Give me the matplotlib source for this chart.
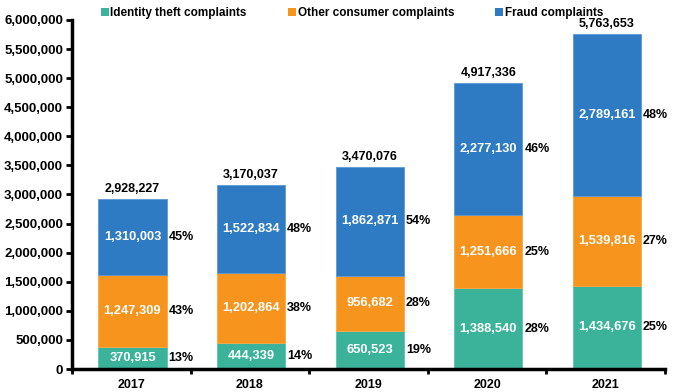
import matplotlib
matplotlib.use("Agg")
import matplotlib.pyplot as plt
import numpy as np
from matplotlib.ticker import FuncFormatter

years = ["2017", "2018", "2019", "2020", "2021"]
identity = [370915, 444339, 650523, 1388540, 1434676]
other = [1247309, 1202864, 956682, 1251666, 1539816]
fraud = [1310003, 1522834, 1862871, 2277130, 2789161]
totals = [2928227, 3170037, 3470076, 4917336, 5763653]
pct_identity = ["13%", "14%", "19%", "28%", "25%"]
pct_other = ["43%", "38%", "28%", "25%", "27%"]
pct_fraud = ["45%", "48%", "54%", "46%", "48%"]

plt.rcParams['font.family'] = ['Liberation Sans', 'DejaVu Sans']
plt.rcParams['font.weight'] = 'bold'

fig = plt.figure(figsize=(6.75, 3.92), dpi=100)
ax = fig.add_axes([72 / 675, 1 - 369 / 392, (665 - 72) / 675, (369 - 20) / 392])

x = np.arange(len(years)) + 0.01
w = 0.575
c_id, c_ot, c_fr = "#3AB39A", "#F7941D", "#2E7BC4"
b1 = ax.bar(x, identity, w, color=c_id, edgecolor="#5CC4AE", linewidth=0.6, label="Identity theft complaints")
b2 = ax.bar(x, other, w, bottom=identity, color=c_ot, edgecolor="#F9A845", linewidth=0.6, label="Other consumer complaints")
bot2 = np.array(identity) + np.array(other)
b3 = ax.bar(x, fraud, w, bottom=bot2, color=c_fr, edgecolor="#5C9AD4", linewidth=0.6, label="Fraud complaints")

fs_in = 9.3
fs_pct = 9
for i in range(len(years)):
    ax.text(x[i], identity[i] / 2, f"{identity[i]:,}", ha='center', va='center', color='white', fontsize=fs_in, fontweight='bold')
    ax.text(x[i], identity[i] + other[i] / 2, f"{other[i]:,}", ha='center', va='center', color='white', fontsize=fs_in, fontweight='bold')
    ax.text(x[i], bot2[i] + fraud[i] / 2, f"{fraud[i]:,}", ha='center', va='center', color='white', fontsize=fs_in, fontweight='bold')
    xr = x[i] + w / 2 + 0.017
    ax.text(xr, identity[i] / 2, pct_identity[i], ha='left', va='center', fontsize=fs_pct, fontweight='bold')
    ax.text(xr, identity[i] + other[i] / 2, pct_other[i], ha='left', va='center', fontsize=fs_pct, fontweight='bold')
    ax.text(xr, bot2[i] + fraud[i] / 2, pct_fraud[i], ha='left', va='center', fontsize=fs_pct, fontweight='bold')
    ax.text(x[i], totals[i] + 70000, f"{totals[i]:,}", ha='center', va='bottom', fontsize=9, fontweight='bold')

ax.set_ylim(0, 6000000)
ax.set_yticks(np.arange(0, 6000001, 500000))
ax.yaxis.set_major_formatter(FuncFormatter(lambda v, p: f"{int(v):,}"))
ax.set_xlim(-0.5, 4.5)
ax.set_xticks(np.arange(len(years)))
ax.set_xticklabels(years)
ax.set_xticks(np.arange(-0.5, 5.0, 1.0), minor=True)
ax.tick_params(axis='x', which='major', length=0, labelsize=9, pad=7)
ax.tick_params(axis='x', which='minor', length=3.5, width=2, direction='out')
ax.tick_params(axis='y', length=4.5, width=2, direction='out', labelsize=9.5, pad=2)
for lbl in ax.get_xticklabels() + ax.get_yticklabels():
    lbl.set_fontweight('bold')
for s in ['top', 'right']:
    ax.spines[s].set_visible(False)
ax.spines['left'].set_linewidth(2.5)
ax.spines['bottom'].set_linewidth(2.5)

leg = fig.legend(handles=[b1, b2, b3], loc='center left', bbox_to_anchor=(101 / 675, 1 - 13 / 392), ncol=3,
                 frameon=False, fontsize=8.5, handlelength=0.65, handleheight=0.75, handletextpad=0.15,
                 columnspacing=3.5, borderpad=0, borderaxespad=0)
for t in leg.get_texts():
    t.set_fontweight('bold')
for h in leg.legend_handles:
    h.set_linewidth(0)

fig.savefig("out.png", dpi=100)
